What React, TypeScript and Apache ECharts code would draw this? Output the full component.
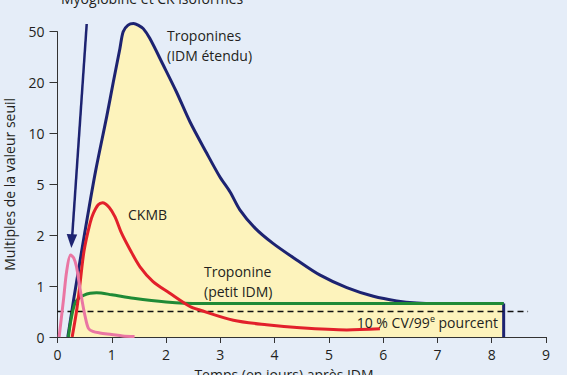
import React, { useEffect, useRef } from "react";
import * as echarts from "echarts";

// Y axis: evenly spaced tick positions carrying these multiples
const yTickValues = [0, 1, 2, 5, 10, 20, 50];
const yTickLabels = ["0", "1", "2", "5", "10", "20", "50"];

// Troponines (IDM étendu)
const tropLargeDays = [0.19, 0.3, 0.45, 0.55, 0.7, 0.91, 1.03, 1.15, 1.21, 1.3, 1.4, 1.5, 1.58, 1.7, 1.95, 2.19, 2.44, 2.75, 2.99, 3.18, 3.36, 3.64, 3.97, 4.4, 4.83, 5.33, 5.82, 6.25, 6.62, 7.0, 8.22];
const tropLargeMult = [0, 0.75, 1.72, 3.05, 6.25, 13.5, 20.6, 40.1, 50, 53.9, 54.8, 53.6, 51.8, 46.1, 30.2, 18.2, 12.3, 8.05, 5.75, 4.55, 3.5, 2.42, 1.84, 1.52, 1.22, 0.97, 0.8, 0.71, 0.67, 0.66, 0.66];

// CKMB
const ckmbDays = [0.27, 0.35, 0.41, 0.49, 0.6, 0.66, 0.75, 0.83, 0.95, 1.06, 1.18, 1.34, 1.52, 1.76, 2.07, 2.44, 2.62, 3.24, 3.85, 4.47, 5.33, 5.94];
const ckmbMult = [0, 0.5, 1.0, 1.7, 2.72, 3.29, 3.8, 3.92, 3.65, 3.08, 2.12, 1.71, 1.38, 1.09, 0.86, 0.6, 0.53, 0.33, 0.24, 0.18, 0.14, 0.16];

// Myoglobine et CK isoformes
const myoDays = [0.03, 0.11, 0.17, 0.24, 0.3, 0.35, 0.4, 0.45, 0.51, 0.57, 0.65, 0.78, 1.0, 1.2, 1.42];
const myoMult = [0, 0.73, 1.3, 1.61, 1.55, 1.38, 1.05, 0.73, 0.4, 0.17, 0.11, 0.08, 0.05, 0.02, 0.01];

// Troponine (petit IDM)
const tropSmallDays = [0.2, 0.25, 0.32, 0.4, 0.48, 0.6, 0.72, 1.0, 1.4, 2.0, 2.62, 4.0, 6.0, 8.22];
const tropSmallMult = [0, 0.35, 0.66, 0.77, 0.82, 0.86, 0.87, 0.83, 0.76, 0.69, 0.66, 0.66, 0.66, 0.66];

// 10 % CV / 99e percentile threshold
const thresholdDays = [0, 8.67];
const thresholdMult = [0.5, 0.5];

const FONT = "'Open Sans', sans-serif";
const TEXT = "#231f20";
const NAVY = "#1d2371";
const RED = "#e2202b";
const GREEN = "#1f8a36";
const PINK = "#ea76a3";
const FILL = "#fdf3bc";
const BG = "#e5edf8";

function toAxis(v: number): number {
  const n = yTickValues.length;
  for (let i = 0; i < n - 1; i++) {
    const a = yTickValues[i];
    const b = yTickValues[i + 1];
    if (v <= b || i === n - 2) return i + (v - a) / (b - a);
  }
  return n - 1;
}

function pairs(xs: number[], ys: number[]) {
  return xs.map((x, i) => [x, toAxis(ys[i])]);
}

export default function App() {
  const ref = useRef<HTMLDivElement>(null);
  useEffect(() => {
    document.body.style.margin = "0";
    if (!ref.current) return;
    const chart = echarts.init(ref.current, null, { renderer: "svg" });
    const lastX = tropSmallDays[tropSmallDays.length - 1];
    const lastY = toAxis(tropSmallMult[tropSmallMult.length - 1]);
    chart.setOption({
      animation: false,
      backgroundColor: BG,
      textStyle: { fontFamily: FONT },
      grid: { left: 57.5, right: 21, top: 31.7, bottom: 38, containLabel: false, outerBoundsMode: "none" },
      xAxis: {
        type: "value",
        min: 0,
        max: 9,
        interval: 1,
        axisLine: { show: true, onZero: false, lineStyle: { color: "#333", width: 1 } },
        axisTick: { show: true, length: 6, lineStyle: { color: "#333" } },
        axisLabel: { margin: 10, color: TEXT, fontSize: 14, fontFamily: FONT },
        splitLine: { show: false },
      },
      yAxis: {
        type: "value",
        min: 0,
        max: 6,
        interval: 1,
        name: "Multiples de la valeur seuil",
        nameLocation: "middle",
        nameGap: 41,
        nameTextStyle: { color: TEXT, fontSize: 14, fontFamily: FONT },
        axisLine: { show: true, lineStyle: { color: "#333", width: 1 } },
        axisTick: { show: true, length: 8, lineStyle: { color: "#333" } },
        axisLabel: {
          margin: 13,
          color: TEXT,
          fontSize: 14,
          fontFamily: FONT,
          formatter: (v: number) => yTickLabels[Math.round(v)] ?? "",
        },
        splitLine: { show: false },
      },
      series: [
        {
          name: "Troponines (IDM étendu)",
          type: "line",
          data: pairs(tropLargeDays, tropLargeMult),
          smooth: 0.3,
          symbol: "none",
          clip: false,
          lineStyle: { color: NAVY, width: 3 },
          areaStyle: { color: FILL, opacity: 1 },
          z: 2,
        },
        {
          name: "edge",
          type: "line",
          data: [[lastX, lastY], [lastX, 0]],
          symbol: "none",
          lineStyle: { color: NAVY, width: 3 },
          z: 3,
        },
        {
          name: "seuil",
          type: "line",
          data: pairs(thresholdDays, thresholdMult),
          symbol: "none",
          lineStyle: { color: "#111", width: 1.6, type: [6, 4] },
          z: 3,
        },
        {
          name: "Troponine (petit IDM)",
          type: "line",
          data: pairs(tropSmallDays, tropSmallMult),
          smooth: 0.3,
          symbol: "none",
          lineStyle: { color: GREEN, width: 3 },
          z: 4,
        },
        {
          name: "CKMB",
          type: "line",
          data: pairs(ckmbDays, ckmbMult),
          smooth: 0.3,
          symbol: "none",
          lineStyle: { color: RED, width: 3 },
          z: 5,
        },
        {
          name: "Myoglobine",
          type: "line",
          data: pairs(myoDays, myoMult),
          smooth: 0.3,
          symbol: "none",
          lineStyle: { color: PINK, width: 3 },
          z: 6,
        },
      ],
      graphic: [
        {
          type: "text",
          left: 61,
          top: -9,
          style: { text: "Myoglobine et CK isoformes", fill: TEXT, font: `14px ${FONT}` },
          z: 10,
        },
        {
          type: "line",
          shape: { x1: 86.7, y1: 24, x2: 72.2, y2: 236 },
          style: { stroke: NAVY, lineWidth: 2.5 },
          z: 10,
        },
        {
          type: "polygon",
          shape: { points: [[66.7, 234], [77.2, 234.6], [71.4, 248]] },
          style: { fill: NAVY },
          z: 10,
        },
        {
          type: "text",
          x: 167,
          y: 25,
          style: { text: "Troponines\n(IDM étendu)", fill: TEXT, font: `14px ${FONT}`, lineHeight: 20 },
          z: 10,
        },
        {
          type: "text",
          x: 128,
          y: 207,
          style: { text: "CKMB", fill: TEXT, font: `14px ${FONT}` },
          z: 10,
        },
        {
          type: "text",
          x: 204,
          y: 261,
          style: { text: "Troponine\n(petit IDM)", fill: TEXT, font: `14px ${FONT}`, lineHeight: 20.5 },
          z: 10,
        },
        {
          type: "text",
          x: 498,
          y: 322,
          style: {
            text: "{a|10 % CV/99}{s|e}{a| pourcent}",
            align: "right",
            verticalAlign: "middle",
            fill: TEXT,
            rich: {
              a: { fontSize: 14, fontFamily: FONT, fill: TEXT, color: TEXT },
              s: { fontSize: 9, fontFamily: FONT, fill: TEXT, color: TEXT, verticalAlign: "top", padding: [0, 0, 8, 0] },
            },
          },
          z: 10,
        },
        {
          type: "text",
          x: 284,
          y: 367,
          style: { text: "Temps (en jours) après IDM", align: "center", fill: TEXT, font: `14px ${FONT}` },
          z: 10,
        },
      ],
    });
    return () => chart.dispose();
  }, []);
  return <div ref={ref} style={{ width: 567, height: 375 }} />;
}
